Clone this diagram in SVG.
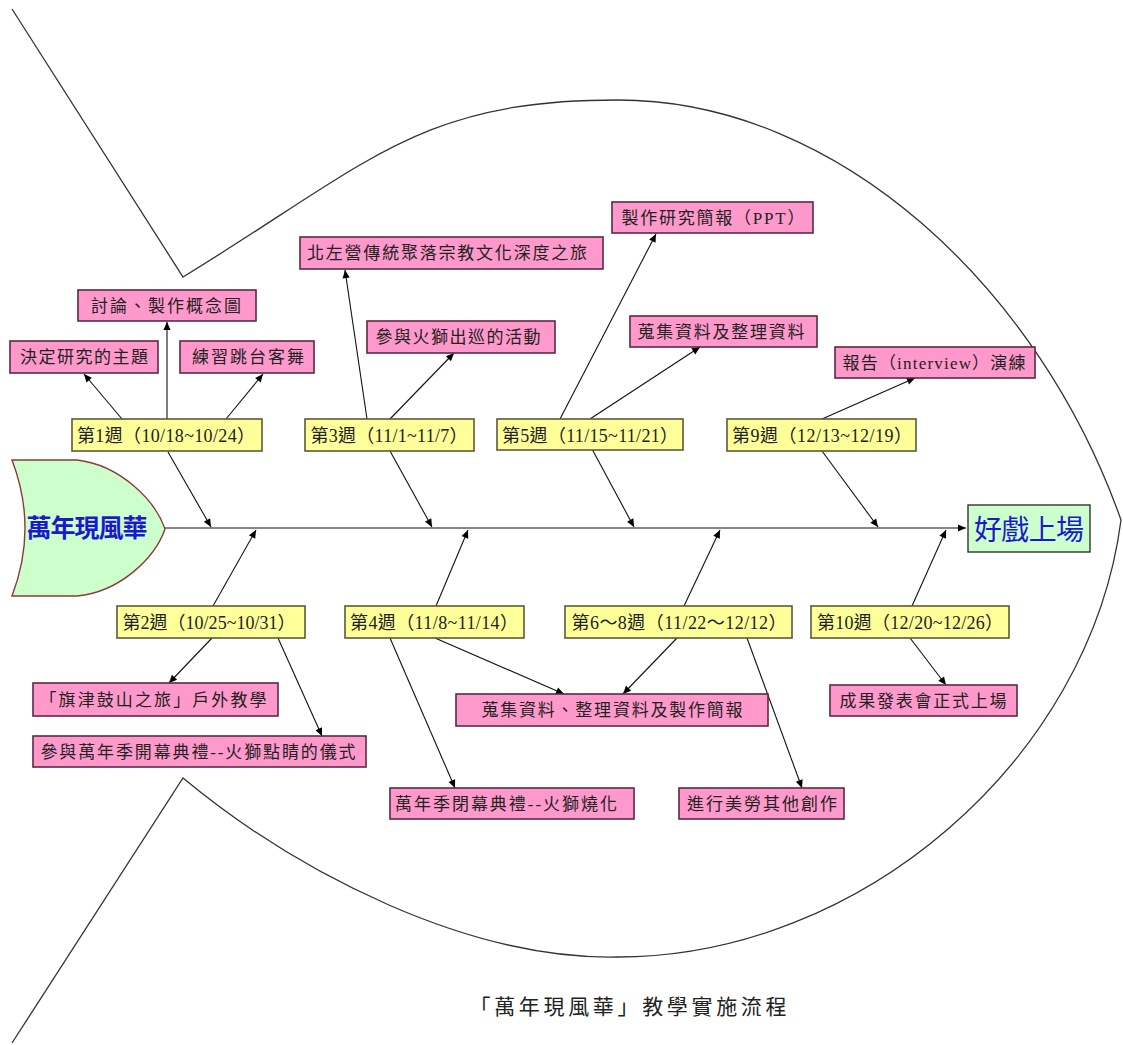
<svg xmlns="http://www.w3.org/2000/svg" width="1123" height="1045" viewBox="0 0 1123 1045">
<style>
.pk{fill:#ff99cc;stroke:#5a2a45;stroke-width:1.6}
.yl{fill:#ffff99;stroke:#5a5a38;stroke-width:1.6}
.gr{fill:#ccffcc;stroke:#333;stroke-width:1.4}
.t{font-family:"Liberation Serif","Noto Sans CJK TC",serif;font-size:17px;fill:#222;text-anchor:middle}
.w{font-family:"Liberation Serif","Noto Sans CJK TC",serif;font-size:18px;fill:#222;text-anchor:middle}
.big{font-family:"Noto Sans CJK TC",sans-serif;font-weight:bold;fill:#1a1acc;text-anchor:middle}
.cn line{stroke:#111;stroke-width:1.1;marker-end:url(#ah)}
.fish{fill:none;stroke:#333;stroke-width:1.3}
</style>
<defs>
<marker id="ah" viewBox="0 0 10 10" refX="10" refY="5" markerWidth="10" markerHeight="8" markerUnits="userSpaceOnUse" orient="auto"><path d="M0,0.5 L10,5 L0,9.5 z" fill="#000"/></marker>
</defs>
<rect width="1123" height="1045" fill="#fff"/>
<g id="fish-outline">
<path class="fish" d="M12,9 L183,277 C371,162 418,100 618,100 C840,100 1040,290 1121,520 C1090,760 860,957 618,957 C470,960 300,875 183,778 L12,1043"/>
</g>
<g class="cn" id="connectors">
<line x1="165" y1="528" x2="966" y2="528"/>
<line x1="122" y1="419" x2="84" y2="374"/>
<line x1="167" y1="419" x2="167" y2="322"/>
<line x1="226" y1="419" x2="263" y2="374"/>
<line x1="168" y1="452" x2="211" y2="527"/>
<line x1="213" y1="606" x2="256" y2="530"/>
<line x1="212" y1="638" x2="169" y2="683"/>
<line x1="278" y1="638" x2="322" y2="736"/>
<line x1="367" y1="419" x2="345" y2="270"/>
<line x1="390" y1="419" x2="454" y2="353"/>
<line x1="390" y1="451" x2="432" y2="527"/>
<line x1="560" y1="419" x2="656" y2="234"/>
<line x1="590" y1="419" x2="700" y2="347"/>
<line x1="592" y1="449" x2="634" y2="527"/>
<line x1="822" y1="419" x2="915" y2="378"/>
<line x1="822" y1="451" x2="878" y2="527"/>
<line x1="436" y1="606" x2="468" y2="530"/>
<line x1="390" y1="638" x2="455" y2="788"/>
<line x1="435" y1="638" x2="564" y2="694"/>
<line x1="684" y1="606" x2="720" y2="530"/>
<line x1="677" y1="638" x2="623" y2="694"/>
<line x1="747" y1="638" x2="802" y2="788"/>
<line x1="912" y1="606" x2="946" y2="530"/>
<line x1="910" y1="638" x2="946" y2="685"/>
</g>
<g id="head">
<path class="gr" style="stroke:#8b3a3a" d="M12,460 L77,460 C120,465 155,500 165,529 C155,558 120,592 77,596 L12,596 Q38,528 12,460 Z"/>
<text class="big" x="87" y="537" font-size="25" textLength="121" lengthAdjust="spacing">萬年現風華</text>
</g>
<g id="goal">
<rect class="gr" x="968" y="505" width="122" height="47"/>
<text class="big" x="1029" y="540" font-size="28" textLength="110" lengthAdjust="spacing" style="font-weight:normal">好戲上場</text>
</g>
<g id="w1"><rect class="yl" x="72" y="419" width="190" height="32"/><text class="w" x="166" y="442" textLength="178" lengthAdjust="spacing">第1週（10/18~10/24）</text></g>
<g id="w2"><rect class="yl" x="117" y="606" width="188" height="32"/><text class="w" x="209" y="629" textLength="173" lengthAdjust="spacing">第2週（10/25~10/31）</text></g>
<g id="w3"><rect class="yl" x="305" y="419" width="169" height="32"/><text class="w" x="389" y="442" textLength="157" lengthAdjust="spacing">第3週（11/1~11/7）</text></g>
<g id="w4"><rect class="yl" x="345" y="606" width="179" height="32"/><text class="w" x="434" y="629" textLength="168" lengthAdjust="spacing">第4週（11/8~11/14）</text></g>
<g id="w5"><rect class="yl" x="497" y="419" width="186" height="31"/><text class="w" x="590" y="442" textLength="176" lengthAdjust="spacing">第5週（11/15~11/21）</text></g>
<g id="w68"><rect class="yl" x="565" y="606" width="227" height="32"/><text class="w" x="679" y="629" textLength="215" lengthAdjust="spacing">第6～8週（11/22～12/12）</text></g>
<g id="w9"><rect class="yl" x="727" y="419" width="189" height="32"/><text class="w" x="822" y="442" textLength="180" lengthAdjust="spacing">第9週（12/13~12/19）</text></g>
<g id="w10"><rect class="yl" x="811" y="606" width="198" height="32"/><text class="w" x="910" y="629" textLength="186" lengthAdjust="spacing">第10週（12/20~12/26）</text></g>
<g id="p1"><rect class="pk" x="78" y="290" width="178" height="31"/><text class="t" x="166" y="312" textLength="150" lengthAdjust="spacing">討論、製作概念圖</text></g>
<g id="p2"><rect class="pk" x="10" y="341" width="148" height="32"/><text class="t" x="84" y="363" textLength="128" lengthAdjust="spacing">決定研究的主題</text></g>
<g id="p3"><rect class="pk" x="180" y="341" width="134" height="32"/><text class="t" x="248" y="363" textLength="112" lengthAdjust="spacing">練習跳台客舞</text></g>
<g id="p4"><rect class="pk" x="300" y="237" width="303" height="32"/><text class="t" x="447" y="259" textLength="280" lengthAdjust="spacing">北左營傳統聚落宗教文化深度之旅</text></g>
<g id="p5"><rect class="pk" x="367" y="321" width="188" height="32"/><text class="t" x="458" y="343" textLength="165" lengthAdjust="spacing">參與火獅出巡的活動</text></g>
<g id="p6"><rect class="pk" x="612" y="202" width="201" height="31"/><text class="t" x="713" y="224" textLength="183" lengthAdjust="spacing">製作研究簡報（PPT）</text></g>
<g id="p7"><rect class="pk" x="630" y="316" width="187" height="31"/><text class="t" x="721" y="338" textLength="167" lengthAdjust="spacing">蒐集資料及整理資料</text></g>
<g id="p8"><rect class="pk" x="835" y="347" width="200" height="31"/><text class="t" x="934" y="369" textLength="183" lengthAdjust="spacing">報告（interview）演練</text></g>
<g id="p9"><rect class="pk" x="33" y="683" width="245" height="33"/><text class="t" x="153" y="706" textLength="227" lengthAdjust="spacing">「旗津鼓山之旅」戶外教學</text></g>
<g id="p10"><rect class="pk" x="33" y="736" width="333" height="31"/><text class="t" x="198" y="758" textLength="315" lengthAdjust="spacing">參與萬年季開幕典禮--火獅點睛的儀式</text></g>
<g id="p11"><rect class="pk" x="456" y="694" width="312" height="32"/><text class="t" x="612" y="716" textLength="261" lengthAdjust="spacing">蒐集資料、整理資料及製作簡報</text></g>
<g id="p12"><rect class="pk" x="390" y="788" width="244" height="31"/><text class="t" x="506" y="810" textLength="222" lengthAdjust="spacing">萬年季閉幕典禮--火獅燒化</text></g>
<g id="p13"><rect class="pk" x="679" y="788" width="165" height="31"/><text class="t" x="762" y="810" textLength="150" lengthAdjust="spacing">進行美勞其他創作</text></g>
<g id="p14"><rect class="pk" x="830" y="685" width="187" height="31"/><text class="t" x="923" y="707" textLength="167" lengthAdjust="spacing">成果發表會正式上場</text></g>
<g id="caption">
<text class="t" x="628" y="1014" style="font-size:21px" textLength="317" lengthAdjust="spacing">「萬年現風華」教學實施流程</text>
</g>
</svg>
